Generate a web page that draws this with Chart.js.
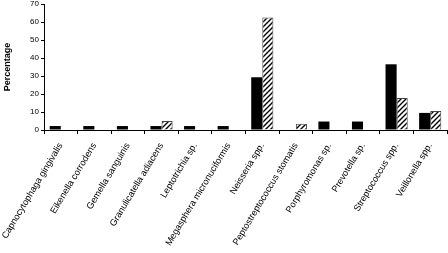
<!DOCTYPE html>
<html>
<head>
<meta charset="utf-8">
<script src="https://cdn.jsdelivr.net/npm/chart.js@4.4.1/dist/chart.umd.min.js"></script>
<style>
  html, body { margin: 0; padding: 0; background: #fff; }
  #wrap { width: 448px; height: 253px; }
</style>
</head>
<body>
<div id="wrap"><canvas id="chart" width="448" height="253"></canvas></div>
<script>
const categories = [
    'Capnocytophaga gingivalis', 'Eikenella corrodens', 'Gemella sanguinis',
    'Granulicatella adiacens', 'Leptotrichia sp.', 'Megasphera micronuciformis',
    'Neisseria spp.', 'Peptostreptococcus stomatis', 'Porphyromonas sp.',
    'Prevotella sp.', 'Streptococcus spp.', 'Veillonella spp.'
];
const solidValues = [2.2, 2.2, 2.2, 2.2, 2.2, 2.2, 29.3, 0, 4.7, 4.7, 36.5, 9.5];
const hatchedValues = [0, 0, 0, 5, 0, 0, 62.5, 3.5, 0, 0, 17.8, 10.5];
const yTicks = [0, 10, 20, 30, 40, 50, 60, 70];

// diagonal hatch fill
function makeHatch() {
    const c = document.createElement('canvas');
    c.width = 5; c.height = 5;
    const g = c.getContext('2d');
    g.fillStyle = '#fff';
    g.fillRect(0, 0, 5, 5);
    g.strokeStyle = '#000';
    g.lineWidth = 1.4;
    g.beginPath();
    g.moveTo(-1, 6); g.lineTo(6, -1);
    g.moveTo(-1, 1); g.lineTo(1, -1);
    g.moveTo(4, 6); g.lineTo(6, 4);
    g.stroke();
    return g.createPattern(c, 'repeat');
}

const font = "'Liberation Sans', Arial, sans-serif";

const chart = new Chart(document.getElementById('chart'), {
    type: 'bar',
    data: {
        labels: categories,
        datasets: [{
            data: solidValues,
            backgroundColor: '#000',
            borderColor: '#000',
            borderWidth: 0,
            barPercentage: 1,
            categoryPercentage: 0.66
        }, {
            data: hatchedValues,
            backgroundColor: makeHatch(),
            borderColor: '#444',
            borderWidth: 1,
            barPercentage: 1,
            categoryPercentage: 0.66
        }]
    },
    options: {
        responsive: false,
        animation: false,
        layout: { padding: { top: 0, right: 1, left: 0, bottom: 0 } },
        plugins: {
            legend: { display: false },
            tooltip: { enabled: false }
        },
        scales: {
            x: {
                grid: {
                    display: true,
                    offset: true,
                    drawOnChartArea: false,
                    drawTicks: true,
                    tickLength: 4,
                    color: '#000'
                },
                border: { color: '#000', width: 1 },
                ticks: {
                    color: '#000',
                    font: { family: font, size: 9.2 },
                    maxRotation: 59,
                    minRotation: 59,
                    autoSkip: false,
                    padding: 7
                },
                afterFit: s => {
                    s.height = 123;
                    s.paddingLeft = 0;
                    s.paddingRight = 0;
                }
            },
            y: {
                min: 0,
                max: 70,
                afterBuildTicks: s => { s.ticks = yTicks.map(v => ({ value: v })); },
                grid: {
                    drawOnChartArea: false,
                    drawTicks: true,
                    tickLength: 3,
                    color: '#000'
                },
                border: { color: '#000', width: 1 },
                ticks: {
                    color: '#000',
                    font: { family: font, size: 8 },
                    padding: 2
                },
                title: {
                    display: true,
                    text: 'Percentage',
                    color: '#000',
                    font: { family: font, size: 9, weight: 'bold' },
                    padding: { top: 2, bottom: 7 }
                },
                afterFit: s => {
                    s.width = 44;
                    s.paddingTop = 4;
                    s.paddingBottom = 0;
                }
            }
        }
    }
});
</script>
</body>
</html>
